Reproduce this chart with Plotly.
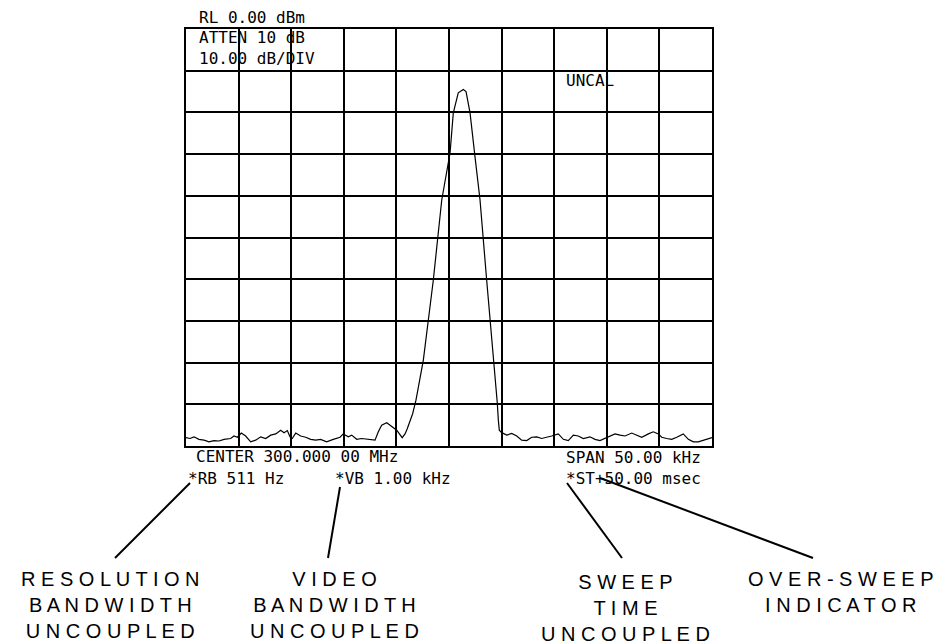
import plotly.graph_objects as go

freq_khz = [
    -25.0, -24.62, -24.24, -23.77, -23.29, -22.81, -22.34, -21.86, -21.39, -20.75,
    -20.44, -20.12, -19.74, -19.33, -18.85, -18.38, -17.90, -17.42, -16.95, -16.47,
    -16.00, -15.68, -15.37, -15.11, -14.90, -14.57, -14.10, -13.62, -13.15, -12.67,
    -12.20, -11.63, -11.00, -10.36, -10.05, -9.57, -9.25, -8.77, -8.30, -7.82,
    -7.03, -6.72, -6.40, -5.92, -5.45, -4.97, -4.45, -4.18, -3.96, -3.71,
    -3.45, -3.14, -2.44, -1.49, -0.69, 0.10, 0.41, 0.88, 1.36, 1.62,
    2.00, 2.47, 2.95, 3.58, 4.06, 4.37, 4.59, 4.69, 4.78, 5.01,
    5.49, 5.96, 6.44, 6.91, 7.39, 7.86, 8.34, 8.81, 9.29, 9.76,
    10.39, 10.87, 11.34, 11.82, 12.29, 12.77, 13.40, 13.88, 14.35, 14.83,
    15.30, 15.78, 16.26, 16.73, 17.37, 17.84, 18.32, 18.95, 19.42, 19.90,
    20.22, 20.69, 21.17, 21.65, 22.27, 22.75, 23.23, 23.70, 24.18, 24.81,
    25.0,
]
level_dbm = [
    -98.0, -98.2, -97.8, -98.4, -98.6, -99.0, -98.7, -98.8, -98.4, -98.2,
    -97.6, -97.9, -96.9, -97.6, -99.0, -98.6, -97.8, -98.2, -97.4, -97.1,
    -96.2, -96.8, -96.3, -97.8, -98.2, -96.9, -97.6, -97.9, -98.4, -98.6,
    -98.4, -99.0, -98.4, -97.9, -97.1, -97.8, -97.4, -98.4, -98.2, -98.4,
    -98.6, -96.6, -95.0, -94.4, -95.2, -96.2, -98.0, -97.1, -95.8, -93.8,
    -92.2, -89.0, -79.4, -60.2, -41.0, -29.7, -20.1, -15.3, -14.5, -15.0,
    -20.1, -30.6, -41.0, -60.2, -73.8, -83.4, -89.7, -93.8, -96.2, -96.8,
    -97.4, -97.0, -97.6, -98.6, -98.7, -97.9, -97.8, -98.2, -97.8, -97.6,
    -97.1, -98.4, -98.7, -97.4, -97.6, -98.2, -97.8, -98.4, -98.7, -98.2,
    -97.6, -97.1, -97.4, -97.6, -96.9, -97.4, -97.9, -97.1, -96.6, -97.1,
    -97.9, -98.2, -98.4, -97.9, -97.1, -98.4, -99.0, -99.0, -98.6, -98.2,
    -98.0,
]

# Screen annotations (text, x px, y px in the page)
screen_text = [
    ("RL 0.00 dBm", 197, 18),
    ("ATTEN 10 dB", 197, 38),
    ("10.00 dB/DIV", 197, 58),
    ("UNCAL", 564, 80),
    ("CENTER 300.000 00 MHz", 194, 456),
    ("*RB 511 Hz", 186, 478),
    ("*VB 1.00 kHz", 333, 478),
    ("SPAN 50.00 kHz", 564, 457),
    ("*ST+50.00 msec", 564, 478),
]
callout_text = [
    ("RESOLUTION<br>BANDWIDTH<br>UNCOUPLED", 110, 605),
    ("VIDEO<br>BANDWIDTH<br>UNCOUPLED", 334, 605),
    ("SWEEP<br>TIME<br>UNCOUPLED", 625, 608),
    ("OVER-SWEEP<br>INDICATOR", 841, 592),
]
leader_lines = [
    (115, 558, 190, 483),
    (328, 558, 340, 487),
    (622, 558, 567, 483),
    (813, 558, 600, 478),
]

# plot area in page pixels
L, R, T, B = 186, 712, 29, 446
W, H = 940, 644


def px(x):
    return (x - L) / (R - L)


def py(y):
    return (B - y) / (B - T)


def spaced(s):
    return "<br>".join(" ".join(list(line)) for line in s.split("<br>"))


fig = go.Figure()
fig.add_trace(go.Scatter(
    x=freq_khz, y=level_dbm, mode='lines',
    line=dict(color='black', width=1.2), hoverinfo='skip'))

annotations = []
for txt, x, y in screen_text:
    annotations.append(dict(
        x=px(x), y=py(y), xref='paper', yref='paper', text=txt,
        showarrow=False, xanchor='left', yanchor='middle',
        font=dict(family='DejaVu Sans Mono', size=16, color='black')))
for txt, x, y in callout_text:
    annotations.append(dict(
        x=px(x), y=py(y), xref='paper', yref='paper', text=spaced(txt),
        showarrow=False, xanchor='center', yanchor='middle', align='center',
        font=dict(family='Liberation Sans', size=20, color='black')))

shapes = []
for x0, y0, x1, y1 in leader_lines:
    shapes.append(dict(
        type='line', xref='paper', yref='paper',
        x0=px(x0), y0=py(y0), x1=px(x1), y1=py(y1),
        line=dict(color='black', width=2)))

fig.update_layout(
    width=W, height=H,
    margin=dict(l=L, r=W - R, t=T, b=H - B),
    plot_bgcolor='white', paper_bgcolor='white',
    showlegend=False,
    annotations=annotations,
    shapes=shapes,
)
fig.update_xaxes(range=[-25, 25], dtick=5, tick0=0, showticklabels=False, ticks='',
                 showgrid=True, gridcolor='black', gridwidth=1.5, zeroline=False,
                 showline=True, linecolor='black', linewidth=2, mirror=True)
fig.update_yaxes(range=[-100, 0], dtick=10, tick0=0, showticklabels=False, ticks='',
                 showgrid=True, gridcolor='black', gridwidth=1.5, zeroline=False,
                 showline=True, linecolor='black', linewidth=2, mirror=True)

# drop the page's default body margin so the figure fills the window
fig.write_html("out.html", config={'displayModeBar': False},
               post_script="document.body.style.margin='0';")
